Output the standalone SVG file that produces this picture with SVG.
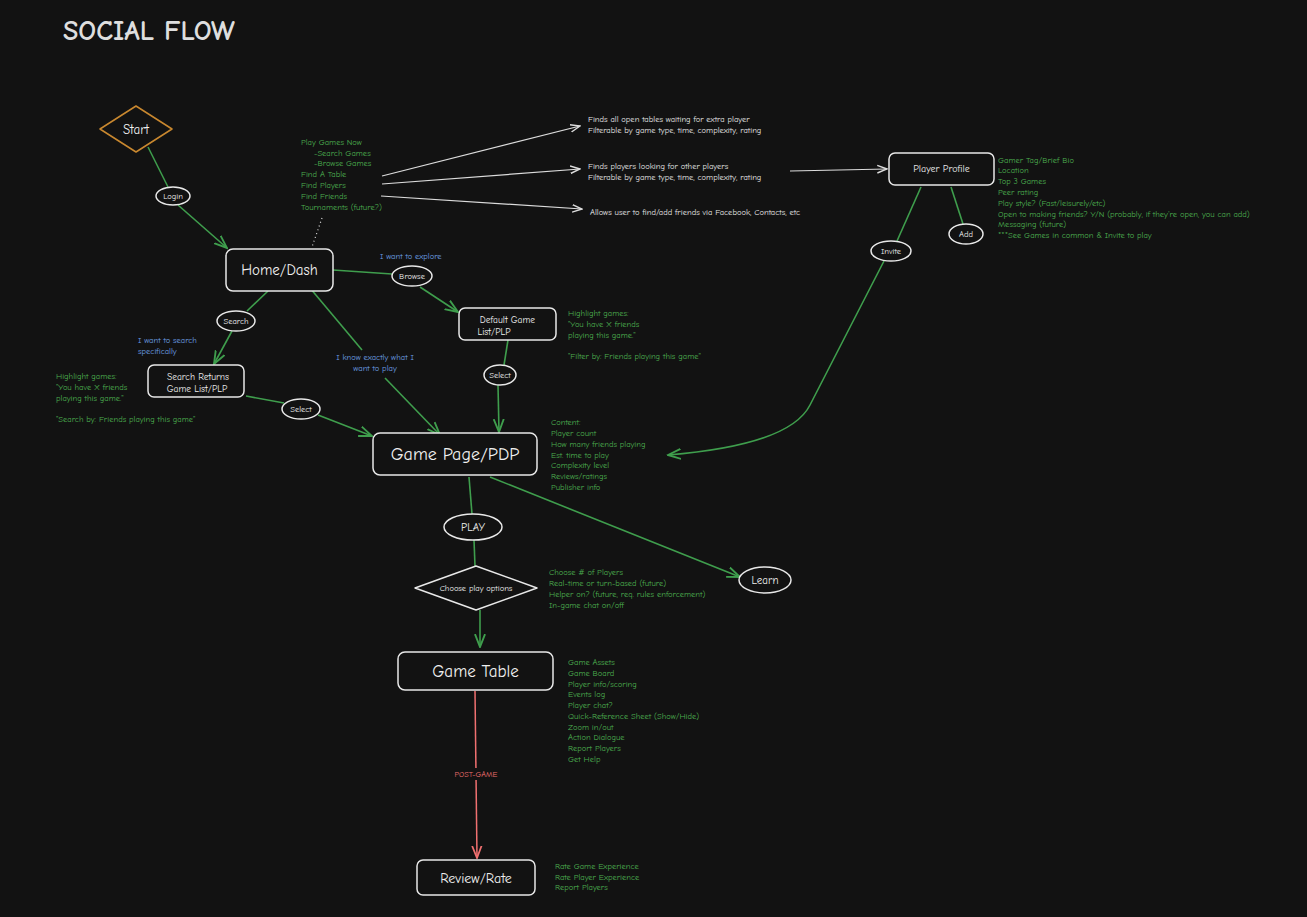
<svg xmlns="http://www.w3.org/2000/svg" width="1307" height="917" viewBox="0 0 1307 917">
<style>
text{font-family:"Comic Neue","Liberation Sans",sans-serif}
.node{fill:#121212;stroke:#e8e8e8;stroke-width:1.5}
.nt{fill:#f0f0f0;text-anchor:middle;dominant-baseline:central}
.g{fill:#4caf50;font-size:8.5px}
.w{fill:#e8e8e8;font-size:8.5px}
.b{fill:#6ea0e6;font-size:8.5px}
.cg{stroke:#3f9e4d;stroke-width:1.6;fill:none}
.cw{stroke:#dcdcdc;stroke-width:1.2;fill:none}
.cr{stroke:#f07070;stroke-width:1.5;fill:none}
</style>
<defs>
<marker id="ag" viewBox="0 0 10 10" refX="9" refY="5" markerWidth="9" markerHeight="9" orient="auto"><path d="M0,1.5L9,5L0,8.5" fill="none" stroke="#3f9e4d" stroke-width="1.3"/></marker>
<marker id="aw" viewBox="0 0 10 10" refX="9" refY="5" markerWidth="9" markerHeight="9" orient="auto"><path d="M0,1.5L9,5L0,8.5" fill="none" stroke="#dcdcdc" stroke-width="1.3"/></marker>
<marker id="ar" viewBox="0 0 10 10" refX="9" refY="5" markerWidth="9" markerHeight="9" orient="auto"><path d="M0,1.5L9,5L0,8.5" fill="none" stroke="#f07070" stroke-width="1.3"/></marker>
</defs>
<rect width="1307" height="917" fill="#121212"/>
<text x="63" y="40" font-size="28" fill="#dedede" font-weight="bold">SOCIAL FLOW</text>
<g id="connectors">
<path class="cg" d="M148,147L168,187"/>
<path class="cg" d="M178,205L227,248" marker-end="url(#ag)"/>
<path d="M322,218L312,247" stroke="#ddd" stroke-width="1.2" stroke-dasharray="1,3"/>
<path class="cw" d="M382,176L580,126" marker-end="url(#aw)"/>
<path class="cw" d="M382,184L580,169" marker-end="url(#aw)"/>
<path class="cw" d="M381,196L582,209" marker-end="url(#aw)"/>
<path class="cw" d="M790,171L887,169" marker-end="url(#aw)"/>
<path class="cg" d="M921,187L897,241"/>
<path class="cg" d="M951,187L963,224"/>
<path class="cg" d="M884,261L810,405Q790,445 668,455" marker-end="url(#ag)"/>
<path class="cg" d="M333,270L392,274"/>
<path class="cg" d="M420,287L458,312" marker-end="url(#ag)"/>
<path class="cg" d="M508,340L504,365"/>
<path class="cg" d="M498,385L499,432" marker-end="url(#ag)"/>
<path class="cg" d="M268,291L247,311"/>
<path class="cg" d="M232,331L214,364" marker-end="url(#ag)"/>
<path class="cg" d="M246,396L284,403"/>
<path class="cg" d="M318,415L372,436" marker-end="url(#ag)"/>
<path class="cg" d="M310,288L362,350"/>
<path class="cg" d="M385,378L440,435" marker-end="url(#ag)"/>
<path class="cg" d="M469,477L472,514"/>
<path class="cg" d="M490,477L740,577" marker-end="url(#ag)"/>
<path class="cg" d="M474,540L475,566"/>
<path class="cg" d="M480,610L480,647" marker-end="url(#ag)"/>
<path class="cr" d="M475,691L477,858" marker-end="url(#ar)"/>
</g>
<g id="start"><path d="M136,106L172,129L136,152L100,129Z" fill="#121212" stroke="#c9882f" stroke-width="1.5" stroke-linejoin="round"/><text x="136" y="129" class="nt" font-size="13">Start</text></g>
<g id="login"><ellipse cx="173" cy="196" rx="17" ry="9" class="node"/><text x="173" y="196" class="nt" font-size="8.5">Login</text></g>
<g id="home"><rect x="226" y="249" width="107" height="42" rx="7" class="node"/><text x="279.5" y="270" class="nt" font-size="15">Home/Dash</text></g>
<g id="menu-text"><text class="g" x="301" y="145">Play Games Now</text><text class="g" x="314" y="156">-Search Games</text><text class="g" x="314" y="166">-Browse Games</text><text class="g" x="301" y="177">Find A Table</text><text class="g" x="301" y="188">Find Players</text><text class="g" x="301" y="199">Find Friends</text><text class="g" x="301" y="210">Tournaments (future?)</text></g>
<g id="desc-white"><text class="w" x="588" y="122">Finds all open tables waiting for extra player</text><text class="w" x="588" y="133">Filterable by game type, time, complexity, rating</text><text class="w" x="588" y="169">Finds players looking for other players</text><text class="w" x="588" y="180">Filterable by game type, time, complexity, rating</text><text class="w" x="590" y="215">Allows user to find/add friends via Facebook, Contacts, etc</text></g>
<g id="profile"><rect x="889" y="153" width="105" height="32" rx="6" class="node"/><text x="941.5" y="169" class="nt" font-size="10">Player Profile</text></g>
<g id="profile-text"><text class="g" x="998" y="163">Gamer Tag/Brief Bio</text><text class="g" x="998" y="173">Location</text><text class="g" x="998" y="184">Top 3 Games</text><text class="g" x="998" y="195">Peer rating</text><text class="g" x="998" y="206">Play style? (Fast/leisurely/etc)</text><text class="g" x="998" y="217">Open to making friends? Y/N (probably, if they're open, you can add)</text><text class="g" x="998" y="227">Messaging (future)</text><text class="g" x="998" y="238">***See Games in common &amp; Invite to play</text></g>
<g id="invite"><ellipse cx="891" cy="251" rx="20" ry="10" class="node"/><text x="891" y="251" class="nt" font-size="8.5">Invite</text></g>
<g id="add"><ellipse cx="966" cy="234" rx="17" ry="10" class="node"/><text x="966" y="234" class="nt" font-size="8.5">Add</text></g>
<g id="browse"><ellipse cx="412" cy="276" rx="20" ry="10" class="node"/><text x="412" y="276" class="nt" font-size="8.5">Browse</text><text class="b" x="380" y="259">I want to explore</text></g>
<g id="default-list"><rect x="459" y="308" width="97" height="32" rx="6" class="node"/><text x="507.5" y="319" class="nt" font-size="9.5">Default Game</text><text x="494" y="331" class="nt" font-size="9.5">List/PLP</text></g>
<g id="default-text"><text class="g" x="568" y="316">Highlight games:</text><text class="g" x="568" y="327">"You have X friends</text><text class="g" x="568" y="338">playing this game."</text><text class="g" x="568" y="359">"Filter by: Friends playing this game"</text></g>
<g id="select1"><ellipse cx="500" cy="375" rx="16" ry="10" class="node"/><text x="500" y="375" class="nt" font-size="8.5">Select</text></g>
<g id="search"><ellipse cx="236" cy="321" rx="19" ry="10" class="node"/><text x="236" y="321" class="nt" font-size="8.5">Search</text><text class="b" x="138" y="343">I want to search</text><text class="b" x="138" y="354">specifically</text></g>
<g id="search-returns"><rect x="148" y="365" width="96" height="32" rx="6" class="node"/><text x="198" y="376" class="nt" font-size="9.5">Search Returns</text><text x="197" y="388" class="nt" font-size="9.5">Game List/PLP</text></g>
<g id="search-text"><text class="g" x="56" y="379">Highlight games:</text><text class="g" x="56" y="390">"You have X friends</text><text class="g" x="56" y="401">playing this game."</text><text class="g" x="56" y="422">"Search by: Friends playing this game"</text></g>
<g id="select2"><ellipse cx="301" cy="409" rx="19" ry="10" class="node"/><text x="301" y="409" class="nt" font-size="8.5">Select</text></g>
<g id="know-label"><text class="b" x="375" y="360" text-anchor="middle">I know exactly what I</text><text class="b" x="375" y="371" text-anchor="middle">want to play</text></g>
<g id="game-page"><rect x="373" y="433" width="164" height="42" rx="7" class="node"/><text x="455" y="454" class="nt" font-size="18">Game Page/PDP</text></g>
<g id="content-text"><text class="g" x="551" y="425">Content:</text><text class="g" x="551" y="436">Player count</text><text class="g" x="551" y="447">How many friends playing</text><text class="g" x="551" y="458">Est. time to play</text><text class="g" x="551" y="468">Complexity level</text><text class="g" x="551" y="479">Reviews/ratings</text><text class="g" x="551" y="490">Publisher info</text></g>
<g id="play"><ellipse cx="473" cy="527" rx="29" ry="13" class="node"/><text x="473" y="527" class="nt" font-size="11">PLAY</text></g>
<g id="learn"><ellipse cx="765" cy="580" rx="26" ry="13" class="node"/><text x="765" y="580" class="nt" font-size="11">Learn</text></g>
<g id="choose"><path d="M476,566L537,588L476,610L415,588Z" class="node" stroke-linejoin="round"/><text x="476" y="588" class="nt" font-size="8.5">Choose play options</text></g>
<g id="choose-text"><text class="g" x="549" y="575">Choose # of Players</text><text class="g" x="549" y="586">Real-time or turn-based (future)</text><text class="g" x="549" y="597">Helper on? (future, req. rules enforcement)</text><text class="g" x="549" y="608">In-game chat on/off</text></g>
<g id="game-table"><rect x="398" y="652" width="155" height="38" rx="7" class="node"/><text x="475.5" y="671" class="nt" font-size="17">Game Table</text></g>
<g id="table-text"><text class="g" x="568" y="665">Game Assets</text><text class="g" x="568" y="676">Game Board</text><text class="g" x="568" y="687">Player info/scoring</text><text class="g" x="568" y="697">Events log</text><text class="g" x="568" y="708">Player chat?</text><text class="g" x="568" y="719">Quick-Reference Sheet (Show/Hide)</text><text class="g" x="568" y="730">Zoom in/out</text><text class="g" x="568" y="740">Action Dialogue</text><text class="g" x="568" y="751">Report Players</text><text class="g" x="568" y="762">Get Help</text></g>
<g id="post-game"><rect x="448" y="768" width="58" height="12" fill="#121212"/><text x="476" y="777" text-anchor="middle" font-size="8" fill="#f07070">POST-GAME</text></g>
<g id="review"><rect x="417" y="860" width="118" height="35" rx="6" class="node"/><text x="476" y="878" class="nt" font-size="14">Review/Rate</text></g>
<g id="review-text"><text class="g" x="555" y="869">Rate Game Experience</text><text class="g" x="555" y="880">Rate Player Experience</text><text class="g" x="555" y="890">Report Players</text></g>
</svg>
